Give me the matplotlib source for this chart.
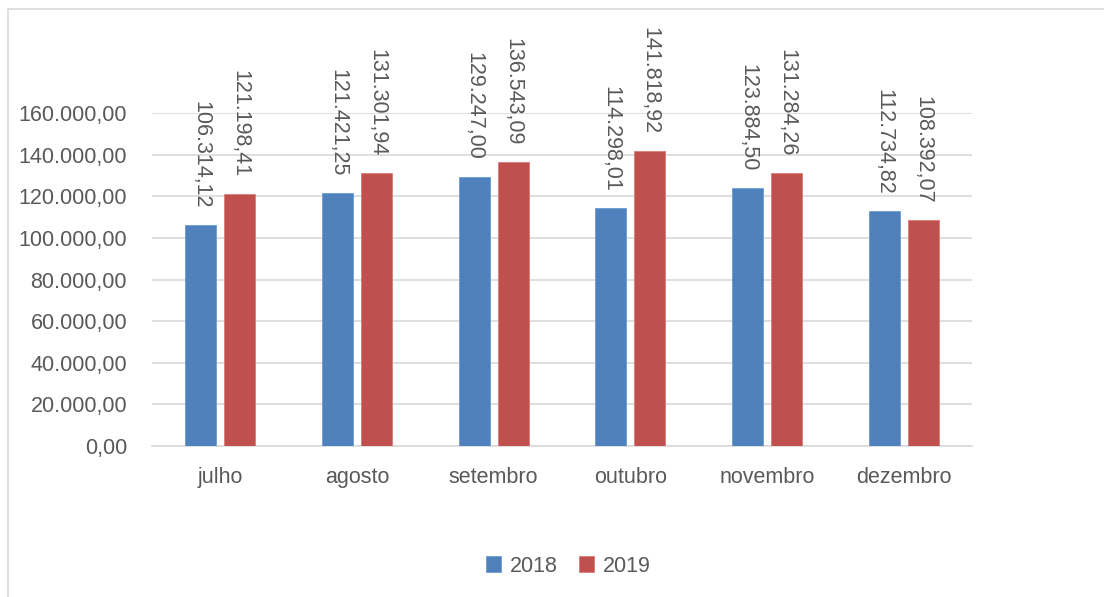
import matplotlib.pyplot as plt
from matplotlib.patches import Rectangle
import numpy as np

meses = ['julho', 'agosto', 'setembro', 'outubro', 'novembro', 'dezembro']
v2018 = [106314.12, 121421.25, 129247.00, 114298.01, 123884.50, 112734.82]
v2019 = [121198.41, 131301.94, 136543.09, 141818.92, 131284.26, 108392.07]

plt.rcParams['font.family'] = ['Liberation Sans', 'DejaVu Sans']
cinza = '#595959'


def fmt(v):
    s = f'{v:,.2f}'
    return s.replace(',', 'X').replace('.', ',').replace('X', '.')


fig = plt.figure(figsize=(11.04, 5.97), dpi=100)
# moldura do grafico (estilo Excel)
fig.patches.append(Rectangle((8 / 1104, -0.1), 1.2, 1 - 9 / 597 + 0.1,
                             transform=fig.transFigure, fill=False,
                             edgecolor='#d9d9d9', linewidth=1.2))

ax = fig.add_axes([0.1377, 0.2529, 0.7427, 0.5578])
x = np.arange(len(meses))
w = 0.227
off = 0.143
b1 = ax.bar(x - off, v2018, w, color='#4f81bd', edgecolor='#6f9bd1', linewidth=0.6, label='2018', zorder=3)
b2 = ax.bar(x + off, v2019, w, color='#c0504d', edgecolor='#d87b78', linewidth=0.6, label='2019', zorder=3)

for bars, vals in ((b1, v2018), (b2, v2019)):
    for r, v in zip(bars, vals):
        ax.annotate(fmt(v), (r.get_x() + r.get_width() / 2, v), xytext=(0, 12),
                    textcoords='offset points', rotation=270, ha='center', va='bottom',
                    fontsize=15.5, color=cinza, annotation_clip=False)

ax.set_xlim(-0.5, len(meses) - 0.5)
ax.set_ylim(0, 160000)
ax.set_yticks(np.arange(0, 160001, 20000))
ax.set_yticklabels([fmt(t) for t in np.arange(0, 160001, 20000)])
ax.set_xticks(x)
ax.set_xticklabels(meses)
ax.tick_params(length=0, labelsize=15.5, colors=cinza)
ax.tick_params(axis='x', pad=15)
ax.tick_params(axis='y', pad=18)
ax.grid(axis='y', color='#d9d9d9', linewidth=1.2, zorder=0)
for s in ['top', 'right', 'left']:
    ax.spines[s].set_visible(False)
ax.spines['bottom'].set_color('#d9d9d9')
ax.spines['bottom'].set_linewidth(1.2)

fig.legend(handles=[b1, b2], loc='center', bbox_to_anchor=(0.515, 1 - 566 / 597), ncol=2,
           frameon=False, fontsize=15.5, labelcolor=cinza, handlelength=0.7, handleheight=0.7,
           handletextpad=0.4, columnspacing=1.0)

fig.savefig('out.png', dpi=100)
